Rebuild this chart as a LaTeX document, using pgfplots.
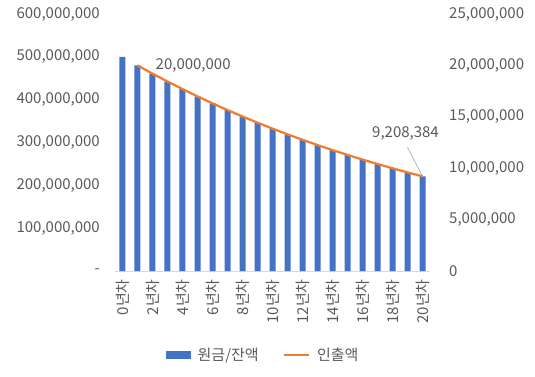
\documentclass[border=0pt]{standalone}
\usepackage{fontspec}
\setmainfont{Noto Sans CJK KR}
\usepackage{pgfplots}
\pgfplotsset{compat=1.18}
\definecolor{barblue}{HTML}{4472C4}
\definecolor{lineorange}{HTML}{ED7D31}
\definecolor{txt}{HTML}{595959}
\definecolor{axgray}{HTML}{D9D9D9}
\begin{document}
\fontsize{15}{18}\selectfont
\begin{tikzpicture}
\useasboundingbox (-115pt,-105pt) rectangle (420pt,271pt);
\begin{axis}[
  at={(0,0)}, anchor=south west,
  scale only axis, width=315pt, height=257pt,
  xmin=-0.5, xmax=20.5, ymin=0, ymax=600000000,
  axis x line*=bottom, axis y line*=left,
  y axis line style={draw=none},
  x axis line style={axgray, line width=0.75pt},
  major tick length=0pt,
  xtick={0,2,4,6,8,10,12,14,16,18,20},
  xticklabels={0년차,2년차,4년차,6년차,8년차,10년차,12년차,14년차,16년차,18년차,20년차},
  xticklabel style={rotate=90, anchor=east, text=txt, font=\fontsize{15}{18}\selectfont, xshift=-3pt},
  ytick={0,100000000,200000000,300000000,400000000,500000000,600000000},
  yticklabels={-,{100,000,000},{200,000,000},{300,000,000},{400,000,000},{500,000,000},{600,000,000}},
  scaled y ticks=false,
  yticklabel style={text=txt, font=\fontsize{15}{18}\selectfont, xshift=-10pt},
  legend style={at={(0.47,-0.327)}, anchor=center, draw=none, fill=none,
    legend columns=2, font=\fontsize{15}{18}\selectfont, text=txt,
    /tikz/every odd column/.append style={column sep=5pt},
    /tikz/every even column/.append style={column sep=22pt}},
]
\addplot[ybar, bar width=6pt, fill=barblue, draw=none,
  legend image code/.code={\fill[barblue] (0pt,-4pt) rectangle (25pt,4pt);}]
  coordinates {
  (0,500000000) (1,480000000) (2,460800000) (3,442368000) (4,424673280)
  (5,407686349) (6,391378895) (7,375723739) (8,360694789) (9,346266998)
  (10,332416318) (11,319119665) (12,306354879) (13,294100684) (14,282336656)
  (15,271043190) (16,260201462) (17,249793404) (18,239801668) (19,230209601)
  (20,221001217)};
\addlegendentry{원금/잔액}
\addlegendimage{legend image code/.code={\draw[lineorange, line width=2.25pt] (0pt,0pt) -- (25pt,0pt);}}
\addlegendentry{인출액}
\end{axis}
\begin{axis}[
  at={(0,0)}, anchor=south west,
  scale only axis, width=315pt, height=257pt,
  xmin=-0.5, xmax=20.5, ymin=0, ymax=25000000,
  axis x line=none, axis y line*=right,
  y axis line style={draw=none},
  major tick length=0pt,
  xtick=\empty,
  ytick={0,5000000,10000000,15000000,20000000,25000000},
  yticklabels={0,{5,000,000},{10,000,000},{15,000,000},{20,000,000},{25,000,000}},
  scaled y ticks=false,
  yticklabel style={text=txt, font=\fontsize{15}{18}\selectfont, xshift=14pt},
  clip=false,
]
\addplot[lineorange, line width=2.25pt, mark=none] coordinates {
  (1,20000000) (2,19200000) (3,18432000) (4,17694720) (5,16986931)
  (6,16307454) (7,15655156) (8,15028950) (9,14427792) (10,13850680)
  (11,13296653) (12,12764787) (13,12254195) (14,11764027) (15,11293466)
  (16,10841728) (17,10408058) (18,9991736) (19,9592067) (20,9208384)};
\node[anchor=west, text=txt, font=\fontsize{15}{18}\selectfont, xshift=13pt] at (axis cs:1,20000000) {20,000,000};
\draw[black!35, line width=0.6pt] (axis cs:20,9208384) -- ++(-15pt,29pt);
\node[anchor=center, text=txt, font=\fontsize{15}{18}\selectfont, xshift=-17pt, yshift=43pt] at (axis cs:20,9208384) {9,208,384};
\end{axis}
\end{tikzpicture}
\end{document}
